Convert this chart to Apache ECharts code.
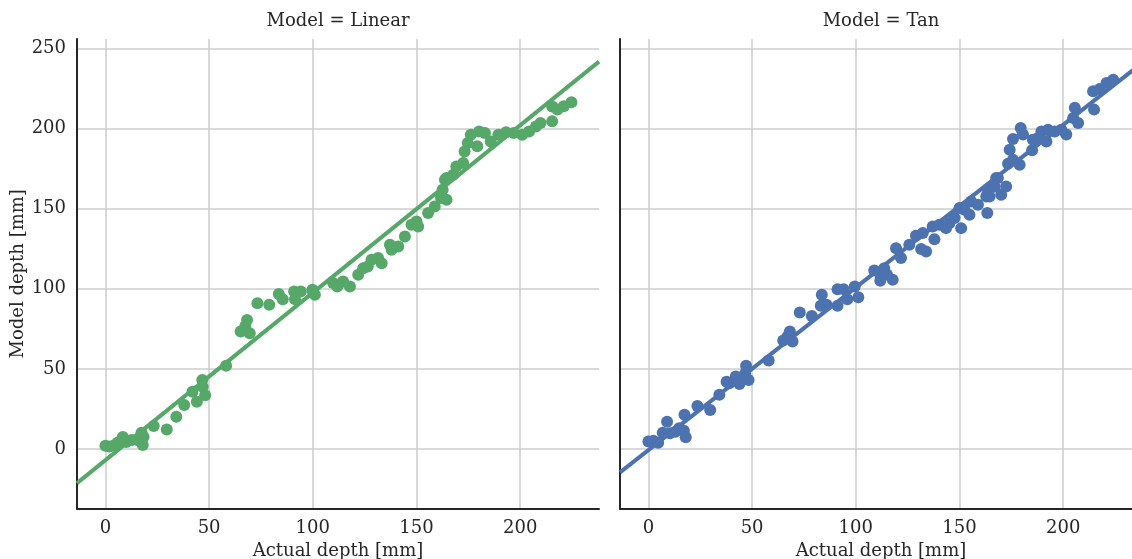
<!DOCTYPE html>
<html>
<head>
<meta charset="utf-8">
<script src="https://cdn.jsdelivr.net/npm/echarts@6/dist/echarts.min.js"></script>
<style>html,body{margin:0;padding:0;background:#fff;}#chart{width:1132px;height:559px;}</style>
</head>
<body>
<div id="chart"></div>
<script>
// Panel titles and axis labels
const panelTitles = ['Model = Linear', 'Model = Tan'];
const xAxisName = 'Actual depth [mm]';
const yAxisName = 'Model depth [mm]';
const xTicks = [0, 50, 100, 150, 200];
const yTicks = [0, 50, 100, 150, 200, 250];
const xRange = [-13.7, 238];
const yRange = [-37.3, 256];

// Linear model: [actual, model]
const linearPoints = [
  [0,2],[2,1.5],[4.5,2.5],[6,4],[8.4,7.5],[10,4.4],[12.7,5.6],[15.5,5.6],[17.5,9.4],[18.4,7.5],
  [18,2.5],[17.4,10.2],[23.3,14.4],[29.6,12.2],[34.2,20.1],[38,27.5],[42,35.7],[44.1,29.5],[46.7,43.1],[46.9,38.8],
  [48.1,33.5],[58.2,51.9],[65.2,73.3],[67.4,76.4],[68.3,80.6],[69.6,72.3],[73.3,91],[79,90],[83.6,96.7],[85.5,93.5],
  [91,98.3],[91.4,93.5],[94.2,98.3],[99.8,99.4],[101,96.3],[100.1,98.3],[109.8,103.6],[112.2,102.5],[114.6,104.6],[117.9,101.4],
  [111.8,101.4],[121.9,108.8],[124.3,112.9],[126.5,114],[128.3,118.1],[131.5,119.2],[133.2,116],[137.2,127.5],[138,124.4],[141.2,126.4],
  [144.4,132.7],[147.6,140],[150,142],[150.8,138.9],[155.6,147.3],[158.8,151.4],[161.8,156.7],[164.5,155.6],[162.6,161.9],[163.7,168.1],
  [164.5,169.2],[167.7,171.3],[169.2,176.4],[172.5,178.5],[173.2,185.8],[174.7,191],[176.2,196.2],[179.3,189],[180.2,198.3],[183,197.3],
  [185.8,192],[189.5,196.2],[193.2,197.7],[196.9,197.3],[201,196.2],[204.3,198.3],[207.6,201.4],[209.8,203.5],[215.4,204.6],[215.4,213.9],
  [221,214],[224.7,216.5],[218,212]
];
// Linear model fit line endpoints (read at the axis edges)
const linearFit = [[-13.7, -21.3], [238, 241.9]];

// Tan model: [actual, model]
const tanPoints = [
  [0,4.6],[2.4,5.2],[4.7,3.9],[6.9,10.2],[9,17],[10.4,9.8],[13,10.8],[14.8,12.9],[17.1,11.4],[18,7.3],
  [17.4,21.3],[23.6,26.9],[29.8,24.4],[34.2,33.8],[37.7,42],[39,41],[42.1,45.2],[43.9,40.6],[46.6,46.9],[47.1,51.9],
  [48.3,43.1],[58,55.2],[65,67.7],[67,70],[68.2,73.3],[69.5,67.1],[73,85.2],[78.8,83.1],[83.1,89.4],[83.6,96.3],
  [85.9,90],[91.2,99.8],[91.2,89.4],[94.1,99.8],[95.9,93.5],[99.5,101.4],[101.2,94.8],[108.9,111.5],[112.1,107.3],[113.7,112.9],
  [111.8,105],[117.8,105.6],[115,109],[119.4,125.4],[121.8,119.2],[125.8,127.5],[129,133.1],[131.5,124.8],[133.9,123.3],[132.3,134.8],
  [137.1,138.9],[137.9,131],[140.3,140],[143.5,137.9],[145.1,141],[147.6,144.2],[150.8,137.9],[150,150.4],[152.4,149.4],[154.8,146.3],
  [155.6,154.6],[158.9,152.5],[163.4,147.3],[162.9,157.7],[164.5,157.7],[163.7,161.9],[166.9,163.9],[167.7,169.2],[168.5,169.2],[170.1,158.8],
  [172.5,163.9],[173.4,178.1],[174.2,186.9],[175.8,180.6],[179,177.5],[175.8,193.6],[179.5,200.4],[180.6,196.3],[185,186.5],[185.4,193.1],
  [187.9,194.2],[189.5,198.3],[191.9,192],[192.7,199.4],[195.9,198.3],[199.1,199.4],[201.5,196.3],[204.8,206.7],[205.6,213],[207.2,203.5],
  [214.9,211.9],[214.4,223.3],[217.6,224.8],[220.9,228.6],[224.1,230.6]
];
const tanFit = [[-13.7, -14.6], [238, 241.0]];

const FONT = 'DejaVu Serif';
const TEXT = '#262626';
const GREEN = '#55a868';
const BLUE = '#4c72b0';
const FS = 18;

function xAxis(idx) {
  return {
    type: 'value', gridIndex: idx, min: xRange[0], max: xRange[1],
    name: xAxisName, nameLocation: 'middle', nameGap: 31,
    nameTextStyle: {fontFamily: FONT, fontSize: FS, color: TEXT},
    axisLine: {show: true, onZero: false, lineStyle: {color: TEXT, width: 2}},
    axisTick: {show: false, customValues: xTicks},
    axisLabel: {customValues: xTicks, fontFamily: FONT, fontSize: FS, color: TEXT, margin: 11},
    splitLine: {show: true, lineStyle: {color: '#cccccc', width: 1.5}}
  };
}
function yAxis(idx, showLabels) {
  return {
    type: 'value', gridIndex: idx, min: yRange[0], max: yRange[1],
    name: showLabels ? yAxisName : '', nameLocation: 'middle', nameGap: 50,
    nameTextStyle: {fontFamily: FONT, fontSize: FS, color: TEXT},
    axisLine: {show: true, onZero: false, lineStyle: {color: TEXT, width: 2}},
    axisTick: {show: false, customValues: yTicks},
    axisLabel: {show: showLabels, customValues: yTicks, fontFamily: FONT, fontSize: FS, color: TEXT, margin: 11},
    splitLine: {show: true, lineStyle: {color: '#cccccc', width: 1.5}}
  };
}

const chart = echarts.init(document.getElementById('chart'), null, {renderer: 'canvas'});
chart.setOption({
  backgroundColor: '#ffffff',
  animation: false,
  title: [
    {text: panelTitles[0], left: 338, top: 12, textAlign: 'center', padding: 0,
     textStyle: {fontFamily: FONT, fontSize: FS, fontWeight: 'normal', color: TEXT}},
    {text: panelTitles[1], left: 881, top: 12, textAlign: 'center', padding: 0,
     textStyle: {fontFamily: FONT, fontSize: FS, fontWeight: 'normal', color: TEXT}}
  ],
  grid: [
    {left: 77, top: 39, width: 522, height: 469.7, containLabel: false, outerBoundsMode: 'none'},
    {left: 620, top: 39, width: 522, height: 469.7, containLabel: false, outerBoundsMode: 'none'}
  ],
  xAxis: [xAxis(0), xAxis(1)],
  yAxis: [yAxis(0, true), yAxis(1, false)],
  series: [
    {type: 'scatter', xAxisIndex: 0, yAxisIndex: 0, data: linearPoints, symbolSize: 12,
     itemStyle: {color: GREEN, opacity: 1}, z: 2},
    {type: 'line', xAxisIndex: 0, yAxisIndex: 0, data: linearFit, showSymbol: false, symbol: 'none',
     lineStyle: {color: GREEN, width: 4}, z: 3},
    {type: 'scatter', xAxisIndex: 1, yAxisIndex: 1, data: tanPoints, symbolSize: 12,
     itemStyle: {color: BLUE, opacity: 1}, z: 2},
    {type: 'line', xAxisIndex: 1, yAxisIndex: 1, data: tanFit, showSymbol: false, symbol: 'none',
     lineStyle: {color: BLUE, width: 4}, z: 3}
  ]
});
</script>
</body>
</html>
